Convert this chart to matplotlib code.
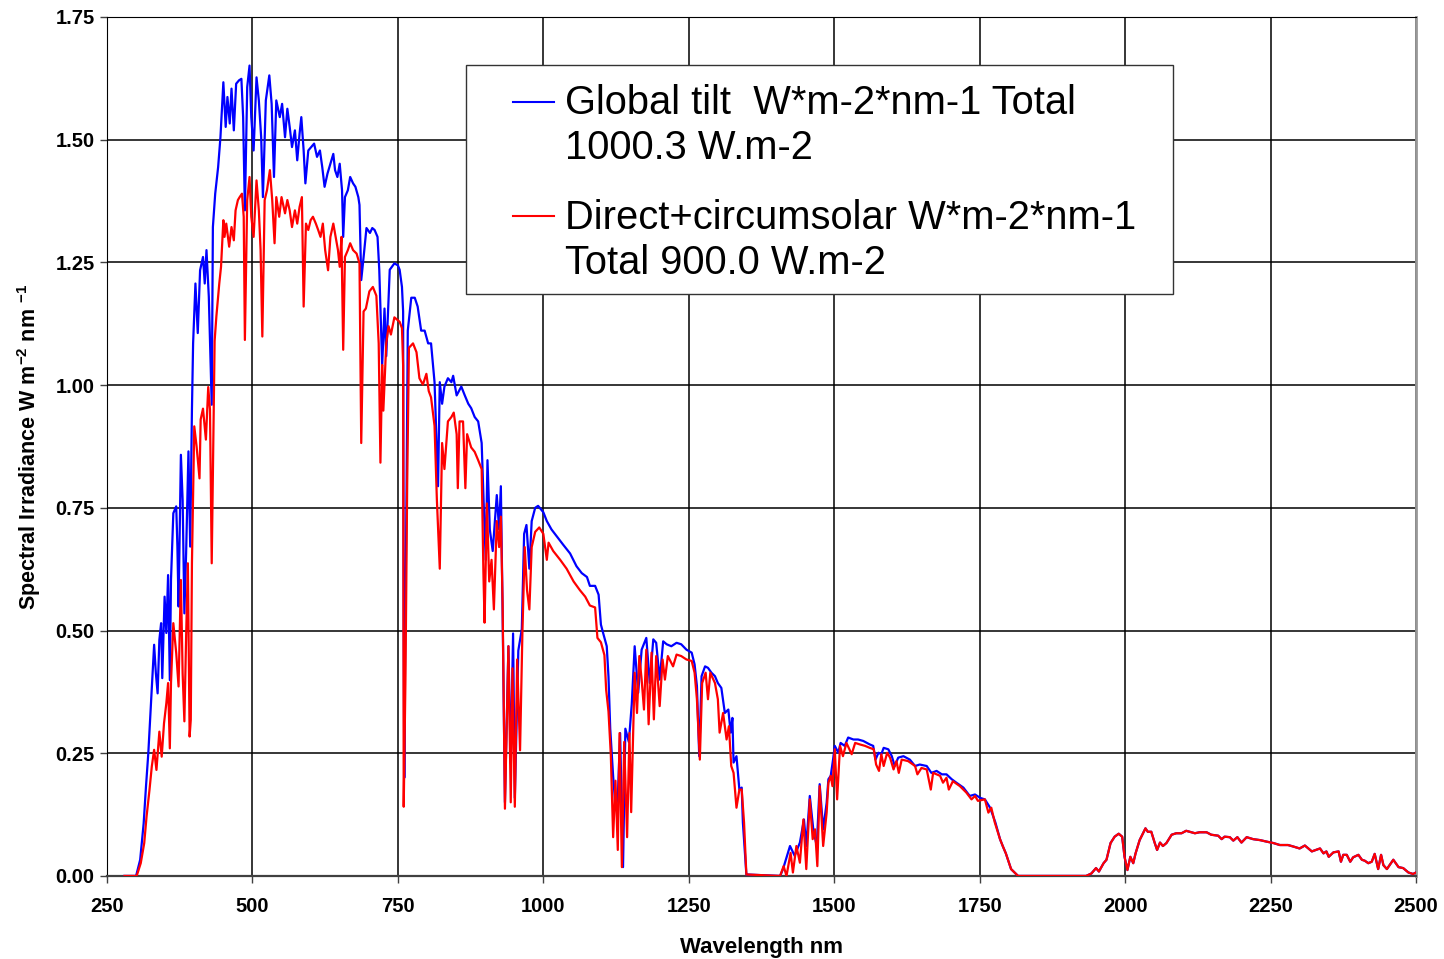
import numpy as np
import matplotlib
matplotlib.use("Agg")
import matplotlib.pyplot as plt
from matplotlib.patches import Rectangle

plt.rcParams['font.family'] = 'Liberation Sans'
plt.rcParams['mathtext.fontset'] = 'custom'
plt.rcParams['mathtext.rm'] = 'Liberation Sans'
plt.rcParams['mathtext.bf'] = 'Liberation Sans:bold'

# global tilt spectrum (blue), (wavelength nm, W m-2 nm-1)
global_pts = [
    (280, 0.0), (300, 0.0), (307, 0.033), (313, 0.107), (317, 0.182), (321, 0.25),
    (325, 0.338), (328, 0.406), (331, 0.471), (334, 0.413), (337, 0.372), (340, 0.481),
    (343, 0.515), (345, 0.403), (349, 0.569), (352, 0.495), (355, 0.613), (358, 0.399),
    (360, 0.603), (364, 0.739), (369, 0.753), (371, 0.671), (373, 0.549), (377, 0.858),
    (380, 0.766), (383, 0.535), (386, 0.658), (390, 0.865), (393, 0.671), (396, 0.95),
    (398, 1.085), (402, 1.207), (406, 1.106), (410, 1.234), (415, 1.261), (418, 1.207),
    (421, 1.275), (425, 1.18), (430, 0.96), (432, 1.322), (436, 1.39), (441, 1.444),
    (445, 1.505), (450, 1.617), (454, 1.526), (457, 1.587), (461, 1.533), (464, 1.604),
    (468, 1.519), (472, 1.614), (477, 1.621), (481, 1.624), (484, 1.546), (487, 1.356),
    (491, 1.607), (495, 1.651), (498, 1.546), (502, 1.478), (507, 1.627), (511, 1.58),
    (515, 1.505), (518, 1.383), (523, 1.58), (529, 1.631), (533, 1.573), (537, 1.424),
    (541, 1.58), (547, 1.546), (551, 1.573), (556, 1.505), (560, 1.563), (564, 1.526),
    (568, 1.485), (573, 1.519), (577, 1.458), (581, 1.512), (584, 1.546), (588, 1.478),
    (591, 1.411), (596, 1.478), (601, 1.485), (606, 1.492), (611, 1.465), (616, 1.478),
    (620, 1.444), (624, 1.404), (629, 1.431), (634, 1.451), (639, 1.471), (642, 1.438),
    (646, 1.424), (650, 1.451), (654, 1.397), (656, 1.302), (659, 1.383), (664, 1.397),
    (668, 1.424), (673, 1.411), (677, 1.404), (682, 1.383), (684, 1.367), (687, 1.214),
    (691, 1.26), (696, 1.32), (702, 1.31), (706, 1.32), (710, 1.316), (715, 1.302),
    (718, 1.235), (723, 1.041), (727, 1.156), (730, 1.059), (736, 1.235), (744, 1.248),
    (750, 1.244), (753, 1.235), (757, 1.2), (759, 1.15), (760, 0.5), (761, 0.2),
    (762, 0.4), (765, 0.8), (767, 1.111), (773, 1.178), (779, 1.178), (784, 1.16),
    (790, 1.111), (796, 1.111), (802, 1.085), (807, 1.085), (813, 1.006), (816, 0.9),
    (819, 0.794), (822, 1.006), (826, 0.962), (830, 0.997), (836, 1.014), (842, 1.006),
    (845, 1.019), (851, 0.979), (859, 0.997), (865, 0.979), (871, 0.962), (876, 0.953),
    (882, 0.935), (888, 0.926), (894, 0.882), (898, 0.741), (901, 0.644), (904, 0.847),
    (908, 0.706), (913, 0.662), (920, 0.776), (924, 0.706), (927, 0.794), (930, 0.538),
    (934, 0.15), (940, 0.468), (944, 0.229), (948, 0.494), (951, 0.159), (957, 0.459),
    (963, 0.503), (967, 0.697), (971, 0.715), (976, 0.626), (980, 0.723), (986, 0.75),
    (991, 0.754), (1000, 0.741), (1006, 0.723), (1014, 0.706), (1023, 0.692), (1034, 0.675),
    (1046, 0.657), (1057, 0.631), (1066, 0.617), (1075, 0.609), (1080, 0.591), (1089, 0.591),
    (1095, 0.573), (1099, 0.512), (1103, 0.494), (1109, 0.468), (1112, 0.406), (1115, 0.3),
    (1120, 0.203), (1124, 0.141), (1128, 0.159), (1132, 0.291), (1137, 0.018), (1141, 0.3),
    (1147, 0.273), (1152, 0.35), (1157, 0.468), (1163, 0.373), (1169, 0.461), (1177, 0.485),
    (1183, 0.393), (1189, 0.482), (1194, 0.475), (1200, 0.4), (1206, 0.478), (1212, 0.472),
    (1220, 0.468), (1229, 0.475), (1237, 0.472), (1246, 0.461), (1255, 0.455), (1260, 0.431),
    (1264, 0.387), (1268, 0.244), (1272, 0.407), (1278, 0.427), (1283, 0.424), (1289, 0.414),
    (1295, 0.407), (1300, 0.393), (1306, 0.383), (1312, 0.332), (1318, 0.339), (1322, 0.292),
    (1325, 0.322), (1327, 0.231), (1332, 0.244), (1337, 0.176), (1341, 0.18), (1343, 0.109),
    (1349, 0.003), (1407, 0.0), (1412, 0.014), (1424, 0.061), (1432, 0.041), (1441, 0.068),
    (1448, 0.115), (1452, 0.061), (1458, 0.163), (1464, 0.095), (1470, 0.061), (1475, 0.187),
    (1481, 0.095), (1487, 0.149), (1490, 0.197), (1494, 0.204), (1498, 0.237), (1501, 0.265),
    (1507, 0.251), (1511, 0.271), (1518, 0.265), (1524, 0.282), (1533, 0.278), (1541, 0.278),
    (1550, 0.275), (1561, 0.268), (1567, 0.265), (1571, 0.237), (1576, 0.251), (1581, 0.248),
    (1585, 0.261), (1593, 0.258), (1599, 0.244), (1604, 0.224), (1610, 0.241), (1619, 0.244),
    (1630, 0.237), (1639, 0.224), (1647, 0.227), (1659, 0.224), (1667, 0.21), (1676, 0.214),
    (1685, 0.207), (1693, 0.207), (1702, 0.197), (1710, 0.19), (1722, 0.18), (1733, 0.163),
    (1742, 0.166), (1751, 0.159), (1759, 0.156), (1768, 0.139), (1777, 0.109), (1785, 0.075),
]

# direct + circumsolar spectrum (red)
direct_pts = [
    (280, 0.0), (301, 0.0), (308, 0.026), (314, 0.067), (318, 0.121), (323, 0.175),
    (327, 0.223), (331, 0.257), (335, 0.216), (340, 0.294), (344, 0.243), (348, 0.311),
    (352, 0.352), (355, 0.393), (358, 0.26), (360, 0.393), (364, 0.515), (369, 0.454),
    (373, 0.386), (377, 0.603), (380, 0.413), (383, 0.315), (386, 0.488), (389, 0.637),
    (392, 0.284), (394, 0.318), (396, 0.637), (400, 0.916), (404, 0.875), (409, 0.81),
    (411, 0.93), (415, 0.952), (420, 0.889), (424, 0.996), (427, 0.95), (430, 0.637),
    (435, 1.09), (438, 1.14), (443, 1.207), (446, 1.241), (450, 1.336), (452, 1.302),
    (455, 1.329), (460, 1.282), (464, 1.322), (468, 1.295), (471, 1.356), (475, 1.377),
    (478, 1.383), (482, 1.39), (485, 1.343), (487, 1.092), (491, 1.377), (495, 1.424),
    (498, 1.343), (502, 1.302), (507, 1.417), (511, 1.356), (514, 1.275), (517, 1.099),
    (521, 1.377), (525, 1.397), (530, 1.438), (534, 1.377), (538, 1.289), (541, 1.383),
    (546, 1.343), (550, 1.383), (556, 1.35), (560, 1.377), (564, 1.356), (568, 1.322),
    (573, 1.356), (577, 1.329), (581, 1.363), (585, 1.383), (588, 1.16), (592, 1.329),
    (596, 1.316), (600, 1.336), (604, 1.343), (609, 1.329), (613, 1.316), (617, 1.302),
    (621, 1.329), (625, 1.275), (630, 1.234), (634, 1.302), (639, 1.329), (643, 1.302),
    (647, 1.275), (650, 1.241), (653, 1.302), (656, 1.072), (659, 1.261), (664, 1.275),
    (668, 1.289), (673, 1.275), (679, 1.268), (684, 1.248), (687, 0.882), (691, 1.15),
    (695, 1.156), (701, 1.191), (707, 1.2), (713, 1.182), (717, 1.085), (720, 0.842),
    (723, 1.041), (725, 0.948), (730, 1.085), (734, 1.12), (738, 1.103), (744, 1.138),
    (753, 1.129), (757, 1.116), (759, 1.04), (760, 0.141), (763, 0.4), (766, 0.8),
    (769, 1.076), (776, 1.085), (782, 1.067), (787, 1.014), (793, 1.001), (799, 1.023),
    (803, 0.988), (807, 0.975), (813, 0.917), (817, 0.767), (822, 0.626), (826, 0.882),
    (830, 0.829), (836, 0.926), (842, 0.935), (846, 0.944), (851, 0.9), (853, 0.79),
    (856, 0.926), (862, 0.926), (866, 0.79), (869, 0.9), (876, 0.873), (882, 0.864),
    (888, 0.847), (894, 0.829), (897, 0.618), (899, 0.516), (903, 0.759), (907, 0.6),
    (911, 0.644), (915, 0.543), (920, 0.723), (924, 0.67), (927, 0.732), (930, 0.556),
    (934, 0.137), (940, 0.468), (944, 0.15), (947, 0.423), (951, 0.141), (955, 0.441),
    (960, 0.256), (964, 0.494), (968, 0.67), (972, 0.582), (976, 0.543), (980, 0.67),
    (986, 0.701), (993, 0.71), (1000, 0.697), (1006, 0.644), (1009, 0.679), (1017, 0.662),
    (1029, 0.644), (1040, 0.626), (1052, 0.6), (1063, 0.582), (1072, 0.569), (1080, 0.551),
    (1089, 0.547), (1093, 0.485), (1099, 0.476), (1105, 0.45), (1108, 0.379), (1112, 0.335),
    (1116, 0.247), (1120, 0.079), (1124, 0.194), (1128, 0.053), (1131, 0.291), (1135, 0.018),
    (1139, 0.273), (1144, 0.079), (1148, 0.291), (1151, 0.13), (1157, 0.414), (1161, 0.332),
    (1165, 0.448), (1169, 0.4), (1173, 0.339), (1177, 0.461), (1181, 0.309), (1186, 0.455),
    (1190, 0.319), (1194, 0.448), (1200, 0.346), (1205, 0.441), (1209, 0.4), (1214, 0.448),
    (1223, 0.427), (1229, 0.451), (1237, 0.448), (1246, 0.441), (1255, 0.438), (1260, 0.414),
    (1264, 0.36), (1269, 0.237), (1273, 0.393), (1279, 0.414), (1283, 0.36), (1287, 0.414),
    (1295, 0.393), (1300, 0.36), (1303, 0.292), (1309, 0.332), (1315, 0.278), (1319, 0.305),
    (1323, 0.224), (1327, 0.21), (1332, 0.139), (1337, 0.176), (1341, 0.176), (1345, 0.109),
    (1349, 0.003), (1407, 0.0), (1413, 0.02), (1418, 0.0), (1425, 0.047), (1429, 0.007),
    (1435, 0.061), (1441, 0.027), (1447, 0.115), (1452, 0.014), (1458, 0.156), (1463, 0.075),
    (1467, 0.095), (1471, 0.02), (1475, 0.183), (1481, 0.061), (1487, 0.129), (1490, 0.19),
    (1494, 0.204), (1497, 0.183), (1501, 0.258), (1505, 0.156), (1510, 0.265), (1515, 0.244),
    (1521, 0.271), (1530, 0.248), (1536, 0.271), (1544, 0.268), (1553, 0.265), (1561, 0.261),
    (1568, 0.258), (1572, 0.227), (1577, 0.214), (1581, 0.248), (1585, 0.224), (1591, 0.251),
    (1596, 0.241), (1602, 0.217), (1607, 0.234), (1611, 0.21), (1616, 0.237), (1627, 0.234),
    (1639, 0.224), (1643, 0.207), (1650, 0.22), (1659, 0.217), (1666, 0.176), (1670, 0.21),
    (1682, 0.204), (1687, 0.19), (1693, 0.2), (1697, 0.176), (1704, 0.193), (1716, 0.183),
    (1727, 0.17), (1736, 0.156), (1742, 0.163), (1747, 0.153), (1759, 0.156), (1765, 0.129),
    (1770, 0.139), (1776, 0.109), (1785, 0.075),
]

# past ~1790 nm the two curves lie on top of each other
ir_tail = [
    (1790, 0.06), (1795, 0.046), (1804, 0.014), (1816, 0.0), (1933, 0.0), (1942, 0.005),
    (1950, 0.016), (1955, 0.009), (1963, 0.026), (1968, 0.033), (1975, 0.067), (1982, 0.08),
    (1989, 0.086), (1995, 0.08), (1999, 0.039), (2004, 0.012), (2009, 0.039), (2014, 0.026),
    (2018, 0.046), (2025, 0.073), (2035, 0.097), (2039, 0.09), (2045, 0.09), (2051, 0.067),
    (2055, 0.053), (2060, 0.068), (2065, 0.061), (2071, 0.067), (2080, 0.084), (2088, 0.087),
    (2097, 0.087), (2105, 0.092), (2111, 0.09), (2120, 0.087), (2128, 0.089), (2140, 0.089),
    (2148, 0.084), (2160, 0.082), (2166, 0.075), (2171, 0.08), (2180, 0.079), (2186, 0.072),
    (2193, 0.079), (2200, 0.068), (2209, 0.079), (2220, 0.075), (2232, 0.073), (2243, 0.07),
    (2255, 0.067), (2266, 0.063), (2280, 0.063), (2289, 0.06), (2300, 0.056), (2309, 0.062),
    (2321, 0.05), (2335, 0.056), (2341, 0.046), (2346, 0.05), (2350, 0.039), (2358, 0.048),
    (2367, 0.05), (2371, 0.029), (2375, 0.043), (2381, 0.043), (2387, 0.029), (2392, 0.038),
    (2401, 0.043), (2407, 0.033), (2412, 0.031), (2418, 0.026), (2424, 0.029), (2429, 0.045),
    (2435, 0.014), (2440, 0.043), (2444, 0.022), (2450, 0.014), (2461, 0.033), (2470, 0.018),
    (2478, 0.016), (2487, 0.007), (2495, 0.004), (2500, 0.007),
]

x_ticks = [250, 500, 750, 1000, 1250, 1500, 1750, 2000, 2250, 2500]
y_ticks = [0.0, 0.25, 0.5, 0.75, 1.0, 1.25, 1.5, 1.75]

legend_lines = [
    ["Global tilt  W*m-2*nm-1 Total", "1000.3 W.m-2"],
    ["Direct+circumsolar W*m-2*nm-1", "Total 900.0 W.m-2"],
]
colors = ["#0000ff", "#ff0000"]

glob = np.array(global_pts + ir_tail)
dire = np.array(direct_pts + ir_tail)

fig, ax = plt.subplots(figsize=(14.44, 9.59), dpi=100)
fig.subplots_adjust(left=0.0741, right=0.9806, bottom=0.0866, top=0.9823)

ax.plot(glob[:, 0], glob[:, 1], color=colors[0], lw=1.6, zorder=3)
ax.plot(dire[:, 0], dire[:, 1], color=colors[1], lw=1.6, zorder=4)

ax.set_xlim(250, 2500)
ax.set_ylim(0, 1.75)
ax.set_xticks(x_ticks)
ax.set_yticks(y_ticks)
ax.set_yticklabels(["%.2f" % v for v in y_ticks])
ax.grid(True, color="black", lw=1.1)
ax.set_axisbelow(True)
ax.tick_params(direction="out", length=5, width=1, color="#404040", labelsize=14.5)
ax.tick_params(axis="x", pad=10)
ax.tick_params(axis="y", pad=4)
for lab in ax.get_xticklabels() + ax.get_yticklabels():
    lab.set_fontweight("bold")

ax.spines["left"].set_color("black")
ax.spines["bottom"].set_color("#404040")
ax.spines["bottom"].set_linewidth(1.6)
ax.spines["right"].set_color("#999999")
ax.spines["right"].set_linewidth(2)
ax.spines["top"].set_color("black")

ax.set_xlabel("Wavelength nm", fontsize=16, fontweight="bold")
ax.set_ylabel(r"Spectral Irradiance W m$^{\mathbf{-2}}$ nm $^{\mathbf{-1}}$",
              fontsize=15.5, fontweight="bold")
ax.xaxis.set_label_coords(0.5, -0.071)
ax.yaxis.set_label_coords(-0.049, 0.5)

# legend box drawn by hand so the key line sits on the first text line
ax.add_patch(Rectangle((0.2739, 0.6775), 0.5405, 0.2664, transform=ax.transAxes,
                       facecolor="white", edgecolor="#333333", lw=1, zorder=5))
key_y = [0.9013, 0.7681]
base_y = [[0.8865, 0.8347], [0.7526, 0.7008]]
for i in range(2):
    ax.plot([0.3100, 0.3415], [key_y[i], key_y[i]], color=colors[i], lw=1.5,
            transform=ax.transAxes, zorder=6)
    for j, line in enumerate(legend_lines[i]):
        ax.text(0.3496, base_y[i][j], line, transform=ax.transAxes, fontsize=28.7,
                va="baseline", ha="left", zorder=6)

fig.savefig("out.png", dpi=100)
